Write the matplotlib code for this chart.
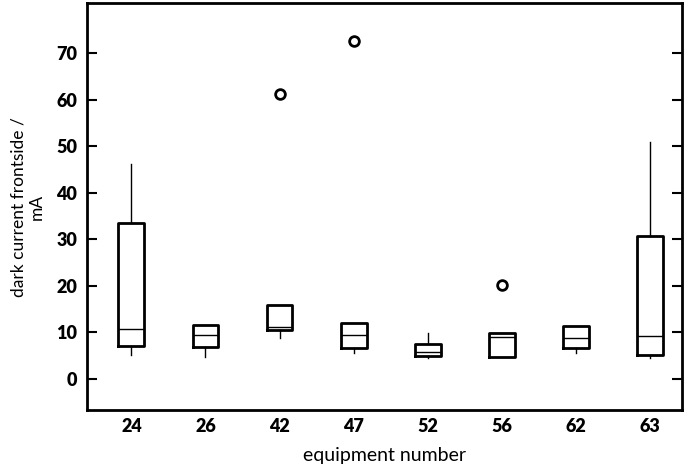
import matplotlib
matplotlib.use("Agg")
import matplotlib.pyplot as plt

plt.rcParams["font.family"] = ["Lato", "DejaVu Sans"]

equipment = ["24", "26", "42", "47", "52", "56", "62", "63"]
whisker_low = [5.2, 4.7, 8.8, 5.6, 4.4, 4.7, 5.5, 4.4]
q1 = [7.1, 6.75, 10.5, 6.6, 4.9, 4.7, 6.6, 5.1]
median = [10.7, 9.5, 11.2, 9.4, 5.8, 9.0, 8.8, 9.2]
q3 = [33.4, 11.5, 15.9, 12.0, 7.4, 9.9, 11.3, 30.8]
whisker_high = [46.1, 11.5, 15.9, 12.0, 9.9, 9.9, 11.3, 51.0]
outliers = [[], [], [61.2], [72.6], [], [20.1], [], []]

stats = []
for i, name in enumerate(equipment):
    stats.append(dict(label=name, whislo=whisker_low[i], q1=q1[i], med=median[i],
                      q3=q3[i], whishi=whisker_high[i], fliers=outliers[i]))

fig = plt.figure(figsize=(6.85, 4.66), dpi=100)
ax = fig.add_axes([0.127, 0.12, 0.868, 0.873])

ax.bxp(stats, positions=range(1, len(equipment) + 1), widths=0.35,
       showcaps=False, showfliers=True,
       boxprops=dict(color="black", linewidth=2.0),
       medianprops=dict(color="black", linewidth=1.0),
       whiskerprops=dict(color="black", linewidth=1.0),
       flierprops=dict(marker="o", markerfacecolor="white", markeredgecolor="black",
                       markeredgewidth=2.0, markersize=7))

ax.set_xlim(0.4, 8.43)
ax.set_ylim(-6.7, 80.7)
ax.set_yticks([0, 10, 20, 30, 40, 50, 60, 70])

for s in ax.spines.values():
    s.set_linewidth(2.0)

ax.tick_params(axis="y", direction="in", length=7, width=1.5, right=True,
               labelsize=13, pad=7)
ax.tick_params(axis="x", length=0, labelsize=13, pad=6)
for lbl in ax.get_xticklabels() + ax.get_yticklabels():
    lbl.set_fontweight("heavy")

ax.set_xlabel("equipment number", fontsize=14, labelpad=8)
ax.set_ylabel("dark current frontside /\nmA", fontsize=12.5, labelpad=8)

fig.savefig("out.png", dpi=100)
